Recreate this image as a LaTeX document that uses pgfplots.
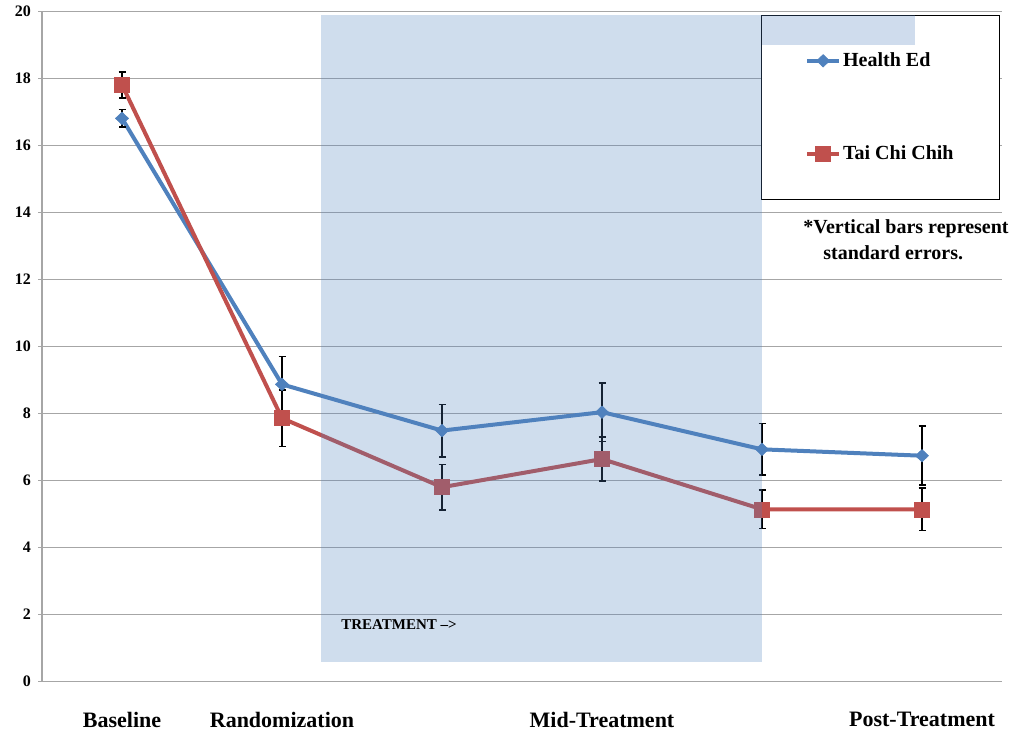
\documentclass[border=0pt]{standalone}
\usepackage{fontspec}
\setmainfont{Liberation Serif}
\usepackage{pgfplots}
\usepackage{pgfplotstable}
\pgfplotsset{compat=1.18}
\definecolor{hblue}{HTML}{4F81BD}
\definecolor{tred}{HTML}{C0504D}
\definecolor{gridgray}{HTML}{A6A6A6}
\pgfplotstableread{
x y e
1 16.81 0.26
2 8.87 0.83
3 7.49 0.78
4 8.04 0.87
5 6.93 0.77
6 6.74 0.88
}\healthed
\pgfplotstableread{
x y e
1 17.81 0.39
2 7.86 0.85
3 5.80 0.68
4 6.64 0.65
5 5.14 0.57
6 5.14 0.63
}\taichi
\begin{document}
\begin{tikzpicture}
\useasboundingbox (0,0) rectangle (513pt,367pt);
\begin{axis}[
  at={(21pt,26.25pt)}, anchor=south west,
  scale only axis, width=480pt, height=335pt,
  xmin=0.5, xmax=6.5, ymin=0, ymax=20,
  axis x line=bottom, axis y line=left,
  axis line style={gridgray, line width=0.8pt, -},
  xtick={1,2,4,6},
  xticklabels={Baseline,Randomization,Mid-Treatment,Post-Treatment},
  x tick style={draw=none},
  ytick={0,2,...,20},
  ymajorgrids, grid style={gridgray, line width=0.75pt},
  tick align=outside, major tick length=2pt,
  y tick style={gridgray, line width=0.75pt},
  /pgf/number format/assume math mode=true,
  yticklabel style={font=\fontsize{8}{9}\selectfont\bfseries},
  xticklabel style={font=\fontsize{11}{13}\selectfont\bfseries, yshift=-10pt},
  legend style={at={(0.998,0.995)}, anchor=north east, draw=black, line width=0.5pt, fill=white,
    font=\fontsize{10}{12}\selectfont\bfseries, inner xsep=22pt, inner ysep=16.5pt, row sep=34pt,
    nodes={inner xsep=1pt}},
  legend image code/.code={%
    \draw[mark repeat=2,mark phase=2] plot coordinates {(0pt,0pt) (8pt,0pt) (16pt,0pt)};},
  legend cell align=left,
  clip=false,
]
\addplot[hblue, line width=2pt, mark=diamond*, mark size=3.1pt,
  mark options={solid, xscale=1.4, line width=0.3pt, fill=hblue, draw=hblue},
  error bars/.cd, y dir=both, y explicit,
  error bar style={black, line width=0.8pt},
  error mark options={rotate=90, mark size=1.75pt, black, line width=0.8pt}]
  table[x=x, y=y, y error=e] {\healthed};
\addlegendentry{Health Ed}
\addplot[tred, line width=2pt, mark=square*, mark size=3.75pt,
  mark options={solid, line width=0.3pt, fill=tred, draw=tred},
  error bars/.cd, y dir=both, y explicit,
  error bar style={black, line width=0.8pt},
  error mark options={rotate=90, mark size=1.75pt, black, line width=0.8pt}]
  table[x=x, y=y, y error=e] {\taichi};
\addlegendentry{Tai Chi Chih}
\coordinate (s1) at (axis cs:2.244,0.58);
\coordinate (s2) at (axis cs:5.0,19.9);
\coordinate (s3) at (axis cs:5.0,19.0);
\coordinate (s4) at (axis cs:5.956,19.9);
\end{axis}
\fill[hblue, opacity=0.27] (s1) rectangle (s2);
\fill[hblue, opacity=0.27] (s3) rectangle (s4);
\node[anchor=base west, inner sep=0pt, font=\fontsize{10}{12}\selectfont\bfseries] at (401.5pt,250.25pt) {*Vertical bars represent};
\node[anchor=base west, inner sep=0pt, font=\fontsize{10}{12}\selectfont\bfseries] at (411.5pt,237.25pt) {standard errors.};
\node[anchor=base west, inner sep=0pt, font=\fontsize{7.5}{9}\selectfont\bfseries] at (170.5pt,52.35pt) {TREATMENT -->};
\end{tikzpicture}
\end{document}
